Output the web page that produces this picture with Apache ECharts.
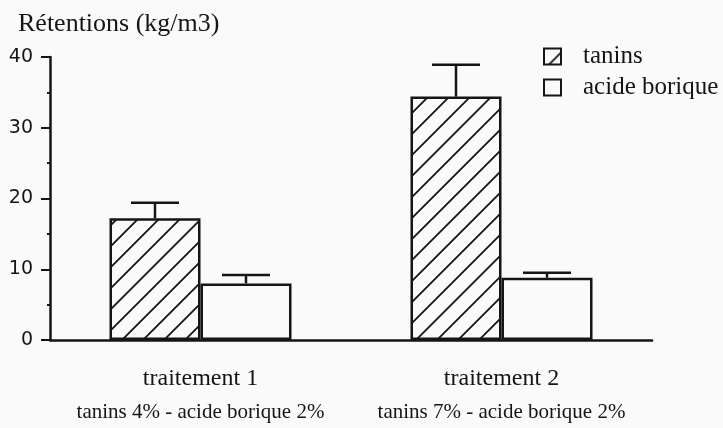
<!DOCTYPE html>
<html>
<head>
<meta charset="utf-8">
<script src="https://cdn.jsdelivr.net/npm/echarts@6/dist/echarts.min.js"></script>
<style>
html,body{margin:0;padding:0;background:#fafafa;}
#chart{width:723px;height:428px;}
</style>
</head>
<body>
<div id="chart"></div>
<script>
const categories=['traitement 1','traitement 2'];
const subLabels=['tanins 4% - acide borique 2%','tanins 7% - acide borique 2%'];
const taninsValues=[17.2,34.4];
const taninsErrTop=[19.4,38.9];
const acideValues=[8.0,8.8];
const acideErrTop=[9.2,9.5];
const yTicks=[0,10,20,30,40];

const ink='#151515';
const barW=91;
const capW=48;

// diagonal hatch tile
function hatch(){
	let c=document.createElement('canvas');
	c.width=21;c.height=21;
	let g=c.getContext('2d');
	g.fillStyle='#fafafa';
	g.fillRect(0,0,21,21);
	g.strokeStyle=ink;
	g.lineWidth=1.8;
	g.beginPath();
	g.moveTo(-2,23);g.lineTo(23,-2);
	g.moveTo(-2,2);g.lineTo(2,-2);
	g.moveTo(19,23);g.lineTo(23,19);
	g.stroke();
	return c;
}

function errItem(side){
	return function(params,api){
		let i=api.value(0);
		let lo=api.coord([i,api.value(1)]);
		let hi=api.coord([i,api.value(2)]);
		let x=lo[0]+side*barW/2;
		let st={stroke:ink,lineWidth:2.5};
		return {type:'group',children:[
			{type:'line',shape:{x1:x,y1:lo[1],x2:x,y2:hi[1]},style:st},
			{type:'line',shape:{x1:x-capW/2,y1:hi[1],x2:x+capW/2,y2:hi[1]},style:st}
		]};
	}
}

let chart=echarts.init(document.getElementById('chart'));
chart.setOption({
	backgroundColor:'#fafafa',
	animation:false,
	title:{
		text:'Rétentions (kg/m3)',
		left:13,top:6,
		textStyle:{fontFamily:'Liberation Serif',fontSize:26,fontWeight:'normal',color:ink}
	},
	legend:{
		data:['tanins','acide borique'],
		orient:'vertical',
		left:543,top:44,padding:0,
		itemWidth:17,itemHeight:16,itemGap:6,
		icon:'rect',
		textStyle:{fontFamily:'Liberation Serif',fontSize:25,color:ink,padding:[0,0,0,17]}
	},
	grid:{left:50,right:71,top:57,bottom:88},
	xAxis:{
		type:'category',
		data:categories,
		axisLine:{lineStyle:{color:ink,width:2.5}},
		axisTick:{show:false},
		axisLabel:{
			margin:24,
			formatter:(v,i)=>'{a|'+v+'}\n{b|'+subLabels[i]+'}',
			rich:{
				a:{fontFamily:'Liberation Serif',fontSize:24,lineHeight:30,color:ink},
				b:{fontFamily:'Liberation Serif',fontSize:21,lineHeight:36,color:ink}
			}
		}
	},
	yAxis:{
		type:'value',
		min:yTicks[0],max:yTicks[yTicks.length-1],interval:10,
		axisLine:{show:true,lineStyle:{color:ink,width:2.5}},
		axisTick:{show:true,length:9,lineStyle:{color:ink,width:2}},
		minorTick:{show:true,splitNumber:2,length:3,lineStyle:{color:ink,width:2}},
		splitLine:{show:false},
		axisLabel:{margin:17,fontFamily:'DejaVu Sans',fontSize:19,color:ink}
	},
	series:[
		{
			name:'tanins',type:'bar',data:taninsValues,
			barWidth:barW,barGap:'0%',
			itemStyle:{color:{image:hatch(),repeat:'repeat'},borderColor:ink,borderWidth:2.5}
		},
		{
			name:'acide borique',type:'bar',data:acideValues,
			barWidth:barW,barGap:'0%',
			itemStyle:{color:'#fafafa',borderColor:ink,borderWidth:2.5}
		},
		{
			type:'custom',
			renderItem:errItem(-1),
			data:taninsValues.map((v,i)=>[i,v,taninsErrTop[i]]),
			z:1
		},
		{
			type:'custom',
			renderItem:errItem(1),
			data:acideValues.map((v,i)=>[i,v,acideErrTop[i]]),
			z:1
		}
	]
});
</script>
</body>
</html>
